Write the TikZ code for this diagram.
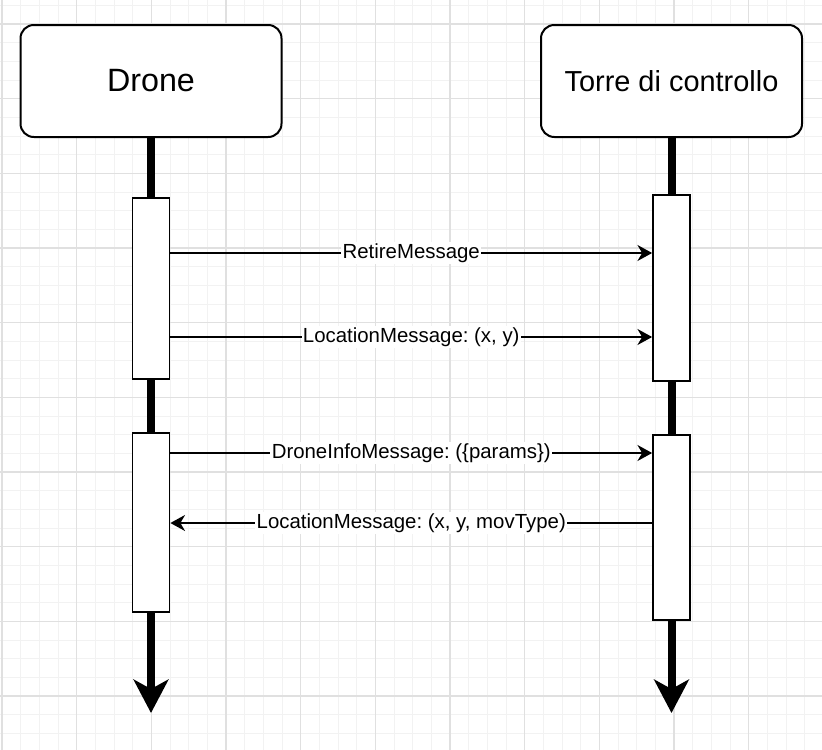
\documentclass[tikz,border=0pt]{standalone}
\usepackage{fontspec}
\setmainfont{Liberation Sans}
\usetikzlibrary{arrows.meta,positioning}
\frenchspacing

\begin{document}
\begin{tikzpicture}[x=0.75pt,y=-0.75pt,
                    actor/.style={rectangle,rounded corners=10pt,draw=black,line width=1.5pt,fill=white,minimum width=195.75pt,minimum height=84pt,font=\fontsize{24.2}{28}\selectfont},
                    activation/.style={rectangle,draw=black,line width=1.3pt,fill=white,minimum width=27.75pt,inner sep=0pt},
                    lifeline/.style={line width=6pt,-{Stealth[length=25pt,width=26pt,inset=7pt]}},
                    msg/.style={line width=1.3pt,-{Stealth[length=11pt,width=12pt,inset=3.5pt]}},
                    msglabel/.style={fill=white,inner xsep=1pt,inner ysep=1pt,font=\fontsize{15.3}{18}\selectfont},
                    minorgrid/.style={draw=black!5,line width=0.6pt},
                    majorgrid/.style={draw=black!12,line width=0.8pt}
                ]
    % background and grid
    \fill[white] (0,0) rectangle (822,750);
    \useasboundingbox (0,0) rectangle (822,750);
    \foreach \i in {0,...,44}
        {
        \draw[minorgrid] (2+18.667*\i,0) -- (2+18.667*\i,750);
        }
    \foreach \j in {-1,...,40}
        {
        \draw[minorgrid] (0,24+18.667*\j) -- (822,24+18.667*\j);
        }
    \foreach \i in {0,...,11}
        {
        \draw[majorgrid] (2+74.667*\i,0) -- (2+74.667*\i,750);
        }
    \foreach \j in {0,...,10}
        {
        \draw[majorgrid] (0,24+74.667*\j) -- (822,24+74.667*\j);
        }

    % participants
    \node[actor] (drone) at (151,81) {Drone};
    \node[actor,font=\fontsize{21.7}{26}\selectfont] (torre) at (671.5,81) {Torre di controllo};
    \coordinate (droneend) at (151,713);
    \coordinate (torreend) at (671.5,713);
    \draw[lifeline] (drone.south) -- (droneend);
    \draw[lifeline] (torre.south) -- (torreend);

    % activations
    \node[activation,minimum height=135.75pt] (dact1) at (151,288.5) {};
    \node[activation,minimum height=134.25pt] (dact2) at (151,522.5) {};
    \node[activation,minimum height=139.5pt] (tact1) at (671.5,288) {};
    \node[activation,minimum height=138.75pt] (tact2) at (671.5,527.5) {};

    % messages
    \draw[msg] (dact1.east |- 0,253) -- node[msglabel] {RetireMessage} (tact1.west |- 0,253);
    \draw[msg] (dact1.east |- 0,337) -- node[msglabel] {LocationMessage: (x, y)} (tact1.west |- 0,337);
    \draw[msg] (dact2.east |- 0,453) -- node[msglabel] {DroneInfoMessage: (\{params\})} (tact2.west |- 0,453);
    \draw[msg] (tact2.west |- 0,523) -- node[msglabel] {LocationMessage: (x, y, movType)} (dact2.east |- 0,523);
\end{tikzpicture}
\end{document}
